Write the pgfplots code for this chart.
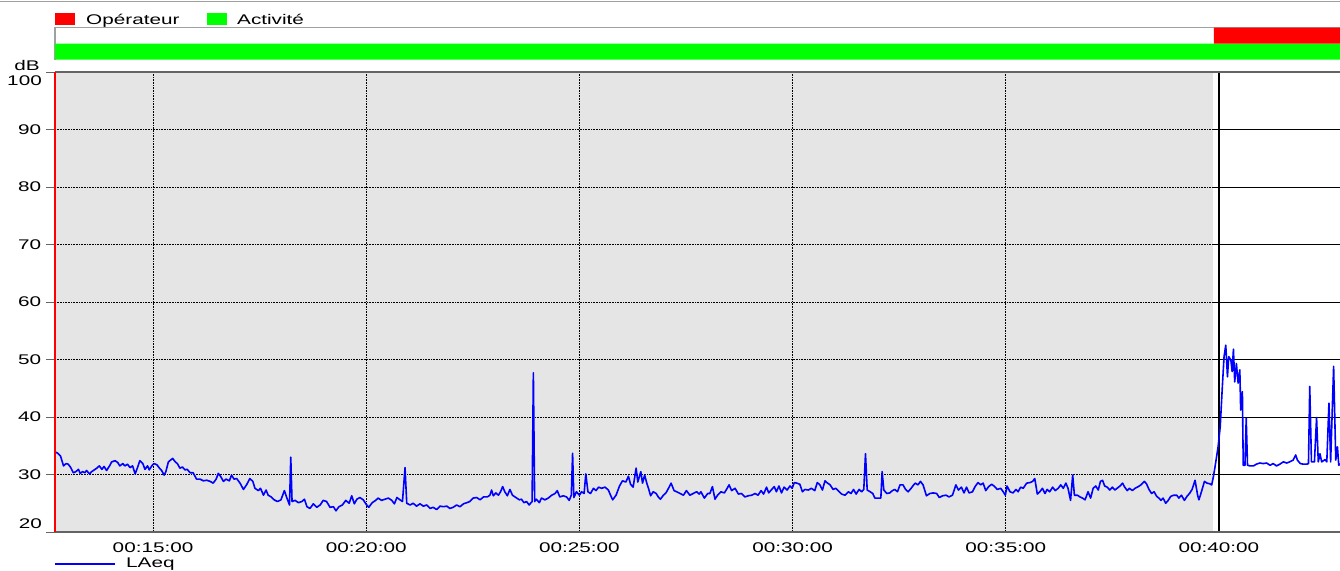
\documentclass[border=0pt]{standalone}
\usepackage{fontspec}
\setmainfont{Liberation Sans}[FakeStretch=1.48]
\usepackage{pgfplots}
\pgfplotsset{compat=1.18}
\definecolor{bgshade}{RGB}{229,229,229}
\definecolor{axgray}{RGB}{100,100,100}
\definecolor{topgray}{RGB}{160,160,160}
\definecolor{lblue}{RGB}{0,0,255}
\definecolor{lgreen}{RGB}{0,255,0}
\definecolor{lred}{RGB}{255,0,0}
\pgfplotstableread{
t db
12.71 33.9
12.74 33.8
12.78 33.6
12.83 33.2
12.90 31.5
12.96 31.9
13.01 31.8
13.07 31.2
13.13 30.3
13.19 30.5
13.25 30.9
13.29 30.2
13.35 30.5
13.40 30.3
13.44 30.7
13.51 30.1
13.56 30.5
13.62 30.8
13.68 31.1
13.74 31.5
13.80 30.9
13.85 31.4
13.91 30.7
13.98 31.5
14.03 32.2
14.11 32.4
14.17 32.1
14.22 31.5
14.29 31.9
14.34 31.5
14.40 31.8
14.46 31.2
14.52 31.5
14.58 30.1
14.63 31.1
14.69 32.4
14.76 31.9
14.81 30.9
14.87 31.5
14.91 30.8
14.97 31.5
15.02 31.9
15.09 31.7
15.15 31.1
15.20 30.7
15.26 29.9
15.30 30.5
15.36 32.2
15.41 32.5
15.46 32.8
15.52 32.2
15.57 31.9
15.63 31.1
15.69 31.3
15.75 30.8
15.80 30.9
15.87 30.3
15.94 30.3
16.02 29.2
16.10 29.2
16.18 28.9
16.26 29.0
16.34 28.8
16.41 28.5
16.48 29.2
16.53 30.2
16.59 29.6
16.65 28.8
16.71 29.2
16.79 28.9
16.84 29.9
16.90 29.2
16.96 29.3
17.04 28.5
17.12 27.4
17.20 28.3
17.27 29.3
17.34 28.8
17.39 27.6
17.47 27.2
17.52 27.6
17.59 26.4
17.65 27.3
17.70 26.4
17.77 26.1
17.84 25.6
17.92 25.3
18.00 25.6
18.08 27.2
18.14 25.9
18.20 24.7
18.23 33.0
18.26 25.3
18.33 25.5
18.41 25.1
18.49 25.3
18.55 25.7
18.61 24.4
18.68 24.1
18.76 24.9
18.84 24.3
18.92 24.7
18.99 25.5
19.07 25.3
19.15 24.3
19.23 24.4
19.29 23.7
19.36 24.4
19.44 24.7
19.52 25.5
19.60 25.0
19.66 26.3
19.72 24.9
19.78 25.7
19.85 26.0
19.93 25.6
20.01 24.7
20.06 24.3
20.14 25.1
20.22 25.5
20.28 25.9
20.36 25.5
20.44 25.7
20.52 25.9
20.60 25.5
20.66 24.9
20.72 26.0
20.79 25.6
20.85 25.3
20.91 31.2
20.95 25.0
21.03 24.7
21.10 25.0
21.18 24.5
21.26 24.9
21.34 24.5
21.42 24.7
21.50 24.1
21.57 24.3
21.65 23.9
21.73 24.5
21.81 24.4
21.89 24.5
21.96 24.1
22.04 24.3
22.12 24.7
22.20 24.4
22.28 24.9
22.36 25.1
22.43 25.3
22.51 25.9
22.59 26.0
22.67 25.6
22.75 26.1
22.84 26.1
22.90 26.4
22.94 27.3
22.98 26.3
23.04 26.8
23.10 26.4
23.15 27.0
23.20 27.9
23.25 27.0
23.31 26.3
23.37 27.4
23.43 26.4
23.51 26.0
23.59 25.6
23.64 25.7
23.70 25.1
23.76 25.3
23.82 24.7
23.89 25.3
23.92 47.7
23.95 25.3
23.99 25.7
24.06 25.1
24.11 25.9
24.19 25.6
24.27 25.9
24.35 26.4
24.43 26.7
24.48 27.2
24.54 26.1
24.62 26.3
24.70 26.1
24.76 25.5
24.81 26.4
24.84 33.7
24.87 26.0
24.93 27.0
25.00 26.4
25.05 27.0
25.11 26.7
25.15 30.1
25.20 27.0
25.26 26.7
25.33 27.6
25.39 27.2
25.45 27.8
25.52 27.6
25.60 27.8
25.68 27.3
25.73 26.4
25.78 25.6
25.86 26.4
25.94 28.0
26.01 28.9
26.09 28.7
26.15 29.7
26.20 28.3
26.26 27.8
26.33 31.1
26.37 28.7
26.44 30.5
26.48 28.5
26.53 29.9
26.58 28.5
26.62 27.6
26.67 26.3
26.73 27.0
26.80 26.7
26.85 26.1
26.90 25.7
26.97 26.4
27.03 26.8
27.09 27.6
27.15 28.5
27.22 27.2
27.28 27.0
27.36 26.7
27.44 26.4
27.51 27.2
27.59 26.4
27.67 26.7
27.75 27.0
27.81 26.6
27.85 27.0
27.93 25.9
28.01 26.7
28.06 26.7
28.12 27.9
28.18 25.7
28.24 26.4
28.32 27.0
28.40 26.8
28.45 27.4
28.51 28.2
28.57 27.2
28.65 27.6
28.73 26.6
28.80 26.7
28.88 26.1
28.96 26.3
29.04 26.4
29.12 26.7
29.19 26.4
29.26 27.2
29.32 26.6
29.39 27.8
29.44 26.8
29.51 27.4
29.57 27.9
29.62 27.0
29.68 28.0
29.74 26.8
29.80 27.8
29.87 27.3
29.94 28.0
29.99 27.6
30.04 28.6
30.10 28.5
30.17 28.3
30.23 27.0
30.29 27.4
30.37 27.3
30.44 27.6
30.52 27.2
30.58 28.6
30.64 28.2
30.70 27.3
30.76 28.9
30.82 28.5
30.88 28.2
30.95 27.4
31.01 27.6
31.07 27.2
31.15 26.6
31.23 26.4
31.31 27.0
31.37 26.7
31.43 27.4
31.49 26.6
31.56 27.4
31.62 27.0
31.67 27.4
31.71 33.6
31.75 27.3
31.82 27.0
31.88 26.7
31.93 25.9
31.99 25.9
32.07 25.9
32.10 30.5
32.14 27.3
32.21 26.7
32.28 26.8
32.34 27.2
32.40 27.4
32.46 27.0
32.52 28.2
32.59 28.2
32.65 27.4
32.71 27.0
32.78 27.6
32.84 28.2
32.88 28.5
32.94 28.2
33.00 28.8
33.06 28.2
33.14 26.3
33.22 26.7
33.30 26.8
33.38 26.7
33.44 26.0
33.52 26.3
33.60 26.4
33.67 26.1
33.75 26.4
33.83 28.2
33.89 27.3
33.96 27.8
34.02 26.8
34.08 27.8
34.14 26.8
34.22 27.0
34.28 27.9
34.35 28.6
34.41 28.2
34.47 28.5
34.53 27.2
34.60 27.9
34.67 28.3
34.74 27.9
34.80 27.4
34.88 27.6
34.94 27.0
34.99 26.4
35.03 28.0
35.10 27.0
35.17 26.8
35.24 27.4
35.29 27.0
35.35 27.8
35.41 27.6
35.49 28.5
35.57 28.6
35.63 28.8
35.68 29.3
35.74 26.6
35.80 27.0
35.86 27.6
35.92 26.7
35.97 27.4
36.03 27.0
36.10 27.8
36.16 27.2
36.23 27.6
36.29 28.2
36.35 27.6
36.41 28.5
36.46 27.6
36.52 25.5
36.57 29.9
36.61 26.4
36.68 26.4
36.74 26.1
36.80 25.9
36.86 25.6
36.93 27.0
36.99 25.9
37.05 27.6
37.11 28.0
37.17 27.3
37.22 28.8
37.27 29.0
37.32 28.0
37.38 27.8
37.44 27.3
37.50 27.8
37.56 27.3
37.61 27.6
37.68 28.0
37.74 28.5
37.79 27.8
37.85 27.2
37.90 27.6
37.97 27.2
38.03 27.6
38.11 27.9
38.17 28.2
38.25 28.8
38.30 28.4
38.36 27.4
38.42 26.7
38.48 27.0
38.54 26.2
38.59 25.9
38.64 25.5
38.69 25.9
38.75 25.0
38.81 25.5
38.87 26.2
38.94 26.4
39.01 26.4
39.06 25.9
39.12 26.4
39.19 25.5
39.25 26.2
39.31 26.7
39.37 27.4
39.44 29.0
39.50 26.4
39.53 25.6
39.59 27.0
39.66 28.8
39.72 28.5
39.78 28.4
39.83 28.2
39.87 29.6
39.92 31.9
39.98 34.8
40.03 38.3
40.08 45.3
40.12 50.5
40.16 52.5
40.20 47.0
40.23 50.5
40.28 49.9
40.31 47.9
40.34 51.8
40.37 46.1
40.41 49.3
40.45 45.9
40.49 48.2
40.51 41.2
40.55 44.4
40.57 31.6
40.61 31.6
40.64 39.8
40.67 31.6
40.73 31.5
40.81 31.5
40.88 31.8
40.96 32.0
41.04 31.9
41.12 32.0
41.20 31.6
41.27 31.9
41.35 31.5
41.43 31.8
41.51 32.2
41.59 32.0
41.66 32.2
41.74 32.5
41.80 33.4
41.84 32.5
41.91 31.9
41.98 31.8
42.06 31.8
42.10 31.9
42.13 45.3
42.17 32.2
42.24 32.2
42.29 39.9
42.33 32.2
42.37 33.6
42.41 32.2
42.49 32.6
42.53 32.2
42.58 42.4
42.62 32.2
42.69 48.8
42.74 32.5
42.78 34.8
42.81 31.6
42.84 31.9
}\laeq
\begin{document}
\fontsize{14pt}{16pt}\selectfont
\begin{tikzpicture}[font=\fontsize{14pt}{16pt}\selectfont]
\draw[topgray, line width=1.5pt] (0,-1.5pt) -- (1340pt,-1.5pt);
% top legend
\fill[lred] (55pt,-12.5pt) rectangle (75pt,-24.5pt);
\node[anchor=base west, inner sep=0] at (86pt,-24pt) {Opérateur};
\fill[lgreen] (207pt,-12.5pt) rectangle (227pt,-24.5pt);
\node[anchor=base west, inner sep=0] at (237pt,-24pt) {Activité};
% band axis
\begin{axis}[at={(55pt,-27.5pt)}, anchor=north west, scale only axis,
  width=1285pt, height=32pt, xmin=12.70, xmax=42.84, ymin=0, ymax=2,
  axis lines=none, clip mode=individual]
\draw[topgray, line width=1.5pt] (rel axis cs:0,0) -- (rel axis cs:0,1) -- (rel axis cs:1,1);
\addplot[draw=none, fill=lgreen] coordinates {(12.70,0) (42.84,0) (42.84,1) (12.70,1) (12.70,0)};
\addplot[draw=none, fill=lred] coordinates {(39.88,1) (42.84,1) (42.84,2) (39.88,2) (39.88,1)};
\end{axis}
% main axis
\begin{axis}[at={(55pt,-72pt)}, anchor=north west, scale only axis,
  width=1285pt, height=460pt,
  xmin=12.70, xmax=42.84, ymin=20, ymax=100,
  set layers, clip mode=individual,
  axis line style={draw=none},
  xtick={15,20,25,30,35,40},
  xticklabels={00:15:00,00:20:00,00:25:00,00:30:00,00:35:00,00:40:00},
  ytick={20,30,...,100}, yticklabels={,30,40,50,60,70,80,90,},
  xmajorgrids, ymajorgrids,
  grid style={black, line width=0.6pt, densely dotted},
  tick align=outside, major tick length=9pt,
  ytick pos=left, xtick pos=bottom,
  xtick style={draw=none},
  ytick style={axgray, line width=1pt},
  tick label style={font=\fontsize{14pt}{16pt}\selectfont},
  xticklabel style={yshift=3pt},
]
\begin{pgfonlayer}{axis background}
\fill[bgshade] (axis cs:12.70,20) rectangle (axis cs:39.85,100);
\end{pgfonlayer}
\pgfplotsinvokeforeach{30,40,...,90}{
  \draw[black, line width=0.9pt] (axis cs:39.85,#1) -- (axis cs:42.84,#1);
}
\draw[black, line width=1.3pt] (axis cs:40,20) -- (axis cs:40,100);
\addplot[lblue, line width=1.6pt, line join=round] table[x=t, y=db] {\laeq};
\draw[axgray, line width=1.5pt] (rel axis cs:0,1) -- (rel axis cs:1,1);
\draw[axgray, line width=2pt] (rel axis cs:0,0) -- (rel axis cs:1,0);
\draw[lred, line width=1.5pt] (rel axis cs:0,0) -- (rel axis cs:0,1);
\node[anchor=east, inner sep=0] at ([xshift=-13pt, yshift=-9pt]rel axis cs:0,1) {100};
\node[anchor=east, inner sep=0] at ([xshift=-13pt, yshift=8pt]rel axis cs:0,0) {20};
\node[anchor=base east, inner sep=0] at ([xshift=-15pt, yshift=2pt]rel axis cs:0,1) {dB};
\end{axis}
% bottom legend
\draw[lblue, line width=1.6pt] (55pt,-564pt) -- (115pt,-564pt);
\node[anchor=base west, inner sep=0] at (126pt,-567pt) {LAeq};
\pgfresetboundingbox
\path (0,0) rectangle (1340pt,-570pt);
\end{tikzpicture}
\end{document}
